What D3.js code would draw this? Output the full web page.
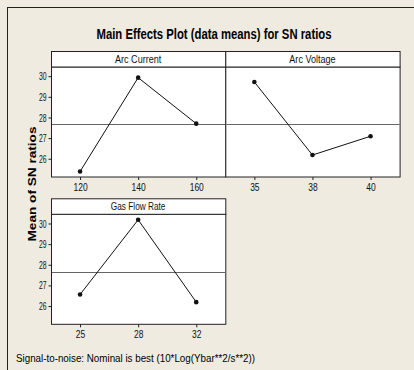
<!DOCTYPE html>
<html>
<head>
<meta charset="utf-8">
<script src="https://cdn.jsdelivr.net/npm/d3@7/dist/d3.min.js"></script>
<style>
  html, body { margin: 0; padding: 0; background: #efebe1; }
  svg { display: block; }
  .axis text { font-family: "Liberation Sans Narrow", "Liberation Sans", Arial, sans-serif; font-size: 11px; fill: #111; }
  .axis path { display: none; }
  .axis line { stroke: #222; }
</style>
</head>
<body>
<div id="chart"></div>
<script>
window.addEventListener("load", () => {

  // data
  const factors = ["Arc Current", "Arc Voltage", "Gas Flow Rate"];
  const levels = [
    ["120", "140", "160"],
    ["35", "38", "40"],
    ["25", "28", "32"]
  ];
  const snMeans = [
    [25.38, 29.93, 27.70],
    [29.72, 26.18, 27.09],
    [26.56, 30.18, 26.19]
  ];
  const overallMean = 27.66;
  const yTicks = [26, 27, 28, 29, 30];
  const yDomain = [25.14, 30.47];

  const width = 414;
  const height = 370;

  const panelLeft = 51;
  const panelW = 174.3;
  const rowTops = [51, 198.3];
  const headerH = 15.5;
  const plotH = 110;

  const font = "'Liberation Sans Narrow', 'Liberation Sans', Arial, sans-serif";

  const svg = d3.select("#chart").append("svg")
                .attr("width", width)
                .attr("height", height);

  // background and outer frame
  svg.append("rect")
     .attr("width", width)
     .attr("height", height)
     .attr("fill", "#efebe1");

  svg.append("rect")
     .attr("x", 7.5)
     .attr("y", 7.5)
     .attr("width", width + 20)
     .attr("height", height + 20)
     .attr("fill", "none")
     .attr("stroke", "#222");

  // title
  svg.append("text")
     .attr("x", 214)
     .attr("y", 39)
     .attr("text-anchor", "middle")
     .attr("font-family", font)
     .attr("font-weight", "bold")
     .attr("font-size", 14)
     .attr("textLength", 235)
     .attr("lengthAdjust", "spacingAndGlyphs")
     .text("Main Effects Plot (data means) for SN ratios");

  // y axis title
  svg.append("text")
     .attr("transform", "translate(36,184) rotate(-90)")
     .attr("text-anchor", "middle")
     .attr("font-family", "'Liberation Sans', Arial, sans-serif")
     .attr("font-weight", "bold")
     .attr("font-size", 11)
     .attr("textLength", 115)
     .attr("lengthAdjust", "spacingAndGlyphs")
     .text("Mean of SN ratios");

  // footer note
  svg.append("text")
     .attr("x", 16)
     .attr("y", 361.5)
     .attr("font-family", font)
     .attr("font-size", 10.5)
     .attr("textLength", 239)
     .attr("lengthAdjust", "spacingAndGlyphs")
     .text("Signal-to-noise: Nominal is best (10*Log(Ybar**2/s**2))");

  // squeeze tick labels to the narrow look of the original
  function narrowLabels(sel, perChar) {
    sel.selectAll("text")
       .attr("textLength", function() { return this.textContent.length * perChar; })
       .attr("lengthAdjust", "spacingAndGlyphs");
  }

  factors.forEach((name, i) => {
    const col = i % 2;
    const row = Math.floor(i / 2);
    const x0 = panelLeft + col * panelW;
    const top = rowTops[row];
    const plotTop = top + headerH;

    const g = svg.append("g")
                 .attr("transform", `translate(${x0}, 0)`);

    const x = d3.scalePoint()
                .domain(levels[i])
                .range([0, panelW])
                .padding(0.5);

    const y = d3.scaleLinear()
                .domain(yDomain)
                .range([plotTop + plotH, plotTop]);

    // plot area and header box
    g.append("rect")
     .attr("x", 0.5)
     .attr("y", plotTop + 0.5)
     .attr("width", panelW)
     .attr("height", plotH)
     .attr("fill", "#fff")
     .attr("stroke", "#222");

    g.append("rect")
     .attr("x", 0.5)
     .attr("y", top + 0.5)
     .attr("width", panelW)
     .attr("height", headerH)
     .attr("fill", "#fff")
     .attr("stroke", "#222");

    g.append("text")
     .attr("x", panelW / 2)
     .attr("y", top + 12)
     .attr("text-anchor", "middle")
     .attr("font-family", font)
     .attr("font-size", 11)
     .attr("fill", "#111")
     .attr("textLength", name.length * 4.2)
     .attr("lengthAdjust", "spacingAndGlyphs")
     .text(name);

    // reference line at the overall mean
    g.append("line")
     .attr("x1", 1)
     .attr("x2", panelW)
     .attr("y1", Math.round(y(overallMean)) + 0.5)
     .attr("y2", Math.round(y(overallMean)) + 0.5)
     .attr("stroke", "#666");

    // x axis
    const gx = g.append("g")
                .attr("class", "axis")
                .attr("transform", `translate(0,${plotTop + plotH + 0.5})`)
                .call(d3.axisBottom(x).tickSize(3).tickPadding(3));
    narrowLabels(gx, 4.7);

    // y axis only on the left column
    if (col === 0) {
      const gy = g.append("g")
                  .attr("class", "axis")
                  .attr("transform", "translate(0.5,0)")
                  .call(d3.axisLeft(y).tickValues(yTicks).tickFormat(d3.format("d")).tickSize(3).tickPadding(2));
      narrowLabels(gy, 3.8);
    }

    // means line and points
    const pts = levels[i].map((lv, j) => ({lv: lv, v: snMeans[i][j]}));

    g.append("path")
     .datum(pts)
     .attr("fill", "none")
     .attr("stroke", "#111")
     .attr("stroke-width", 1)
     .attr("d", d3.line().x(d => x(d.lv)).y(d => y(d.v)));

    g.selectAll("circle.pt")
     .data(pts)
     .join("circle")
      .attr("class", "pt")
      .attr("cx", d => x(d.lv))
      .attr("cy", d => y(d.v))
      .attr("r", 2.3)
      .attr("fill", "#111");
  });
});
</script>
</body>
</html>
